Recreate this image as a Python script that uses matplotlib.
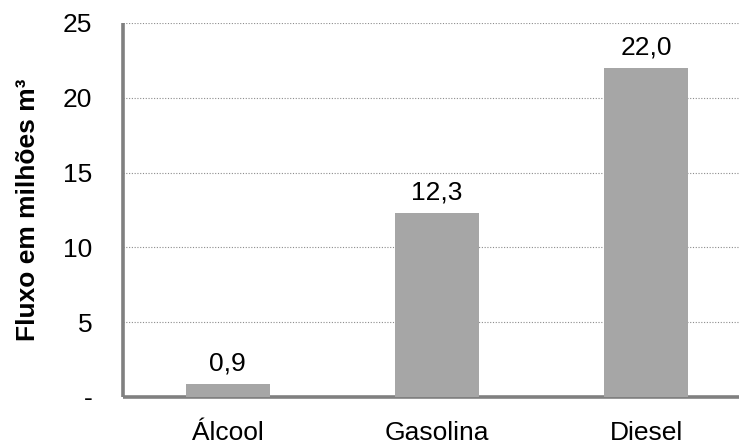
import matplotlib
matplotlib.use("Agg")
import matplotlib.pyplot as plt

categories = ["Álcool", "Gasolina", "Diesel"]
values = [0.9, 12.3, 22.0]
value_labels = ["0,9", "12,3", "22,0"]
y_ticks = [0, 5, 10, 15, 20, 25]
y_tick_labels = ["-", "5", "10", "15", "20", "25"]
y_title = "Fluxo em milhões m³"

plt.rcParams["font.family"] = ["Liberation Sans", "DejaVu Sans"]
FS = 19

fig = plt.figure(figsize=(7.39, 4.47), dpi=100)
ax = fig.add_axes([123 / 739, 1 - 397 / 447, (751 - 123) / 739, (397 - 23) / 447])

x = range(len(categories))
bars = ax.bar(x, values, width=0.4, color="#a6a6a6", zorder=3)

for b, lab in zip(bars, value_labels):
    ax.annotate(lab, (b.get_x() + b.get_width() / 2, b.get_height()),
                xytext=(0, 9.5), textcoords="offset points",
                ha="center", va="baseline", fontsize=FS, color="black")

ax.set_xlim(-0.5, 2.5)
ax.set_ylim(0, 25)
ax.set_xticks(list(x))
ax.set_xticklabels(categories, fontsize=FS)
ax.set_yticks(y_ticks)
ax.set_yticklabels(y_tick_labels, fontsize=FS)
ax.tick_params(axis="x", length=0, pad=17.5)
ax.tick_params(axis="y", length=0, pad=22)

ax.yaxis.grid(True, linestyle=(0, (1, 1.5)), color="#8c8c8c", linewidth=0.8, zorder=0)
ax.set_axisbelow(True)

for s in ["top", "right"]:
    ax.spines[s].set_visible(False)
for s in ["left", "bottom"]:
    ax.spines[s].set_color("#808080")
    ax.spines[s].set_linewidth(2.6)
    ax.spines[s].set_capstyle("butt")

ax.set_ylabel(y_title, fontsize=FS, fontweight="bold", va="center")
ax.yaxis.set_label_coords(-(123 - 28) / 628, 0.5)

fig.savefig("out.png", dpi=100)
